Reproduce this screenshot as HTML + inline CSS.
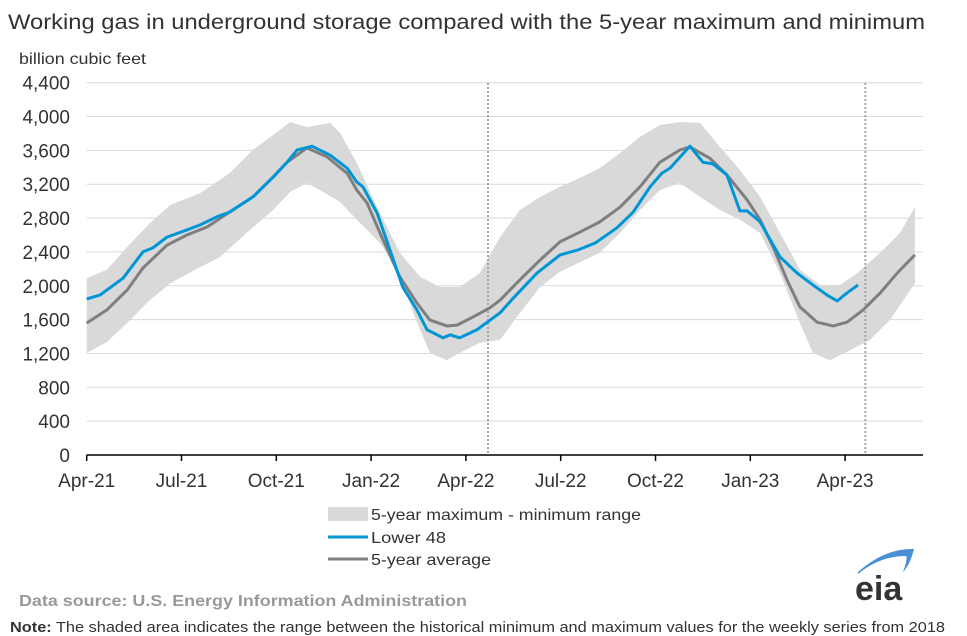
<!DOCTYPE html>
<html><head><meta charset="utf-8"><style>
body{margin:0;background:#fff;width:967px;height:636px;overflow:hidden;font-family:"Liberation Sans",sans-serif;}
svg{position:absolute;left:0;top:0}
</style></head><body>
<svg id="chart" width="967" height="636" viewBox="0 0 967 636">
<text x="8" y="29" font-size="21" fill="#333" textLength="917" lengthAdjust="spacingAndGlyphs">Working gas in underground  storage compared with the 5-year maximum and minimum</text>
<text x="19" y="64" font-size="16" fill="#333" textLength="127" lengthAdjust="spacingAndGlyphs">billion cubic feet</text>
<g id="grid"></g><g id="band"></g><g id="lines"></g><g id="axes"></g>
<g>
<rect x="328" y="507" width="40" height="14" fill="#d9d9d9"/>
<text x="371" y="520" font-size="16" fill="#333" textLength="270" lengthAdjust="spacingAndGlyphs">5-year maximum - minimum range</text>
<line x1="328" y1="537" x2="368" y2="537" stroke="#0096d6" stroke-width="3"/>
<text x="371" y="543" font-size="16" fill="#333" textLength="75" lengthAdjust="spacingAndGlyphs">Lower 48</text>
<line x1="328" y1="559" x2="368" y2="559" stroke="#7f7f7f" stroke-width="3"/>
<text x="371" y="565" font-size="16" fill="#333" textLength="120" lengthAdjust="spacingAndGlyphs">5-year average</text>
</g>
<text x="19" y="606" font-size="16" font-weight="bold" fill="#999" textLength="448" lengthAdjust="spacingAndGlyphs">Data source:  U.S. Energy Information Administration</text>
<text x="10" y="632" font-size="15" fill="#333" textLength="935" lengthAdjust="spacingAndGlyphs"><tspan font-weight="bold">Note:</tspan> The shaded area indicates the range between the historical minimum and maximum values for the weekly series from 2018</text>
<g>
<path d="M858 572 Q885 548 914 549 Q910 565 903 572 Q908 558 906 556 Q880 556 858 574 Z" fill="#4a90d9"/>
<text x="855" y="600" font-size="34" font-weight="bold" fill="#333">eia</text>
</g>
</svg>
<script>
// months since Apr-2021 ; values in bcf
const lowerX=[0,0.42,1.15,1.78,2.1,2.54,3.17,3.59,4.12,4.52,5.26,5.9,6.34,6.66,7.13,7.7,8.24,8.55,8.74,9.19,9.6,10.0,10.45,10.77,11.28,11.5,11.8,12.35,13.08,13.5,14.25,14.98,15.52,16.09,16.78,17.29,17.83,18.2,18.46,19.09,19.5,19.82,20.26,20.67,20.9,21.31,21.94,22.48,22.98,23.43,23.75,24.06,24.41];
const lowerV=[1844,1890,2090,2400,2450,2575,2660,2720,2815,2870,3050,3285,3460,3605,3650,3545,3390,3225,3170,2860,2420,1985,1715,1480,1385,1420,1385,1480,1680,1855,2150,2365,2420,2505,2685,2870,3170,3330,3390,3650,3460,3440,3310,2885,2885,2755,2340,2150,2010,1890,1820,1915,2010];
const avgX=[0,0.64,1.28,1.78,2.54,3.17,3.81,4.52,5.26,5.9,6.34,6.97,7.6,8.24,8.55,8.87,9.38,9.91,10.45,10.86,11.4,11.72,12.22,12.76,13.08,13.71,14.35,14.98,15.61,16.24,16.88,17.51,18.14,18.77,19.09,19.71,20.26,20.9,21.31,21.72,22.16,22.57,23.11,23.62,24.06,24.57,25.11,25.65,26.21];
const avgV=[1560,1715,1950,2210,2480,2600,2695,2870,3050,3285,3460,3630,3525,3330,3130,2980,2540,2105,1795,1595,1525,1535,1630,1740,1830,2070,2305,2520,2635,2755,2930,3170,3460,3605,3640,3510,3310,3015,2780,2460,2070,1750,1570,1525,1570,1715,1915,2150,2365];
const maxX=[0,0.64,1.28,2.0,2.64,3.59,4.52,5.26,5.9,6.44,6.97,7.7,8.02,8.55,9.28,9.91,10.55,11.18,11.8,12.44,13.08,13.71,14.35,14.98,15.61,16.24,16.88,17.51,18.14,18.77,19.41,20.04,20.67,21.31,21.94,22.57,23.2,23.84,24.32,25.11,25.74,26.21];
const maxV=[2090,2190,2460,2740,2955,3095,3330,3605,3780,3935,3875,3925,3805,3450,2860,2390,2105,1985,1985,2150,2575,2895,3050,3170,3275,3390,3570,3760,3900,3935,3925,3640,3370,3050,2625,2190,2010,2010,2130,2390,2625,2930];
const minX=[0,0.64,1.28,2.0,2.64,3.59,4.22,5.06,5.9,6.44,6.97,7.38,8.02,8.55,9.28,9.91,10.33,10.86,11.4,11.8,12.44,13.08,13.71,14.35,14.98,15.61,16.24,16.88,17.51,18.14,18.77,19.41,20.04,20.67,21.31,21.94,22.57,22.98,23.52,24.16,24.79,25.42,26.21];
const minV=[1205,1335,1560,1830,2030,2220,2340,2625,2895,3110,3215,3130,2990,2780,2505,2150,1680,1205,1120,1205,1325,1360,1680,1985,2165,2280,2390,2625,2895,3130,3215,3050,2895,2780,2625,2150,1560,1205,1120,1240,1360,1595,2030];
const yTicks=[0,400,800,1200,1600,2000,2400,2800,3200,3600,4000,4400];
const xTickLabels=['Apr-21','Jul-21','Oct-21','Jan-22','Apr-22','Jul-22','Oct-22','Jan-23','Apr-23'];
const xTickMonths=[0,3,6,9,12,15,18,21,24];
const markerMonths=[12.7,24.64];

const X0=86.7,PXM=31.6,Y0=455,PYV=372.3/4400,XEND=923;
const sx=m=>X0+m*PXM, sy=v=>Y0-v*PYV;
const NS='http://www.w3.org/2000/svg';
function mk(t,p,a){const e=document.createElementNS(NS,t);for(const k in a)e.setAttribute(k,a[k]);p.appendChild(e);return e;}
const grid=document.getElementById('grid'),band=document.getElementById('band'),lines=document.getElementById('lines'),axes=document.getElementById('axes');
yTicks.forEach(v=>{
  if(v>0){const l=mk('line',grid,{x1:X0,x2:XEND,y1:sy(v),y2:sy(v),stroke:'#d9d9d9','stroke-width':1});
  
  }
  const t=mk('text',axes,{x:70,y:sy(v)+7,'text-anchor':'end','font-size':19,fill:'#333'});t.textContent=v.toLocaleString('en-US');
  
  
});
let pts=maxX.map((m,i)=>sx(m)+','+sy(maxV[i]));
for(let i=minX.length-1;i>=0;i--)pts.push(sx(minX[i])+','+sy(minV[i]));
const poly=mk('polygon',band,{points:pts.join(' '),fill:'#d9d9d9'});


markerMonths.forEach(m=>{const l=mk('line',lines,{x1:sx(m),x2:sx(m),y1:83,y2:Y0,stroke:'#a6a6a6','stroke-width':2,'stroke-dasharray':'2,2'});
  
  });
const a=mk('polyline',lines,{points:avgX.map((m,i)=>sx(m)+','+sy(avgV[i])).join(' '),fill:'none',stroke:'#7f7f7f','stroke-width':3,'stroke-linejoin':'round'});


const b=mk('polyline',lines,{points:lowerX.map((m,i)=>sx(m)+','+sy(lowerV[i])).join(' '),fill:'none',stroke:'#0096d6','stroke-width':3,'stroke-linejoin':'round'});


const ax=mk('line',axes,{x1:X0,x2:XEND,y1:Y0,y2:Y0,stroke:'#000','stroke-width':1.5});


xTickMonths.forEach((m,i)=>{
  const tk=mk('line',axes,{x1:sx(m),x2:sx(m),y1:Y0,y2:Y0+6,stroke:'#000','stroke-width':1.5});
  
  
  const t=mk('text',axes,{x:sx(m),y:487,'text-anchor':'middle','font-size':19,fill:'#333'});t.textContent=xTickLabels[i];
  
  
});
</script>
</body></html>
